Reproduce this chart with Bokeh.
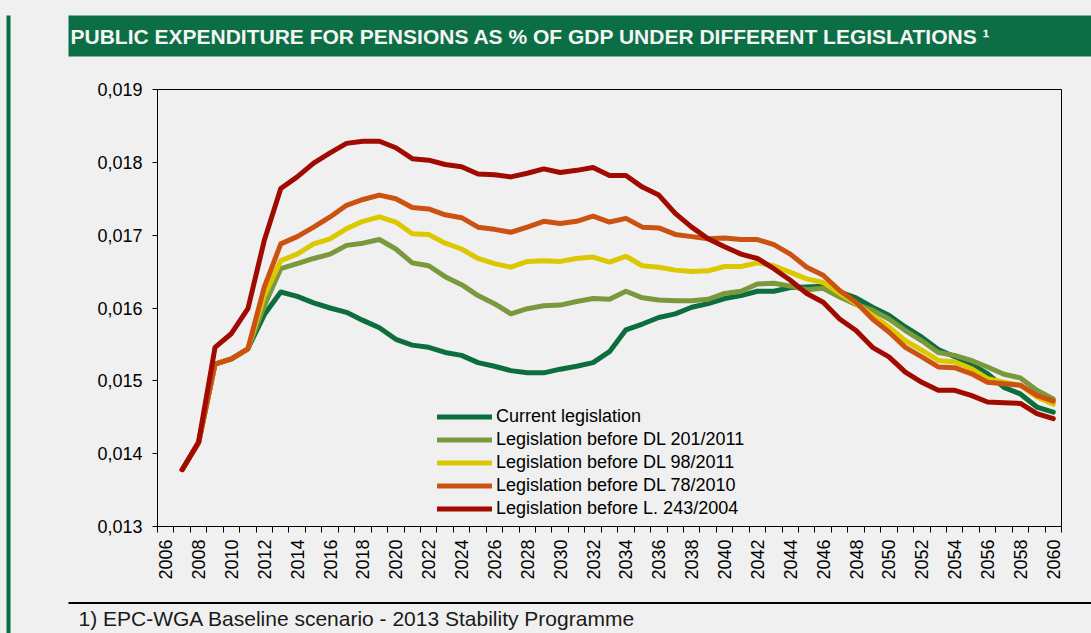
import math
from bokeh.plotting import figure
from bokeh.layouts import row, column
from bokeh.models import Range1d, FixedTicker, Legend, LegendItem
from bokeh.core.properties import value
from bokeh.embed import file_html
from bokeh.resources import INLINE

years = list(range(2007, 2061))

current = [0.01378, 0.01415, 0.01523, 0.01530, 0.01544, 0.01591,
           0.01622, 0.01616, 0.01607, 0.01600, 0.01594, 0.01583, 0.01573, 0.01557,
           0.01549, 0.01546, 0.01539, 0.01535, 0.01525, 0.01520, 0.01514, 0.01511,
           0.01511, 0.01516, 0.01520, 0.01525, 0.01540, 0.01570, 0.01578, 0.01587,
           0.01592, 0.01601, 0.01606, 0.01613, 0.01617, 0.01623, 0.01623, 0.01628,
           0.01629, 0.01630, 0.01622, 0.01614, 0.01601, 0.01590, 0.01574, 0.01560,
           0.01543, 0.01533, 0.01523, 0.01510, 0.01491, 0.01482, 0.01464, 0.01457]

before_dl201 = [0.01378, 0.01415, 0.01523, 0.01530, 0.01544, 0.01603,
                0.01654, 0.01661, 0.01668, 0.01674, 0.01686, 0.01689, 0.01694, 0.01681,
                0.01662, 0.01658, 0.01643, 0.01632, 0.01617, 0.01606, 0.01592, 0.01599,
                0.01603, 0.01604, 0.01609, 0.01613, 0.01612, 0.01623, 0.01614, 0.01611,
                0.01610, 0.01610, 0.01612, 0.01620, 0.01623, 0.01633, 0.01634, 0.01630,
                0.01625, 0.01627, 0.01615, 0.01605, 0.01597, 0.01585, 0.01569, 0.01555,
                0.01539, 0.01535, 0.01528, 0.01519, 0.01509, 0.01504, 0.01487, 0.01475]

before_dl98 = [0.01378, 0.01415, 0.01523, 0.01530, 0.01544, 0.01617,
               0.01665, 0.01674, 0.01688, 0.01695, 0.01709, 0.01719, 0.01725, 0.01718,
               0.01702, 0.01701, 0.01689, 0.01681, 0.01668, 0.01661, 0.01656, 0.01664,
               0.01665, 0.01664, 0.01668, 0.01670, 0.01663, 0.01671, 0.01658, 0.01656,
               0.01652, 0.01650, 0.01651, 0.01657, 0.01657, 0.01662, 0.01658, 0.01649,
               0.01640, 0.01635, 0.01620, 0.01606, 0.01590, 0.01574, 0.01555, 0.01542,
               0.01528, 0.01526, 0.01517, 0.01503, 0.01498, 0.01494, 0.01478, 0.01468]

before_dl78 = [0.01378, 0.01415, 0.01523, 0.01530, 0.01544, 0.01629,
               0.01688, 0.01698, 0.01711, 0.01725, 0.01741, 0.01749, 0.01755, 0.01750,
               0.01738, 0.01736, 0.01728, 0.01724, 0.01711, 0.01708, 0.01704, 0.01711,
               0.01719, 0.01716, 0.01719, 0.01726, 0.01718, 0.01723, 0.01711, 0.01710,
               0.01701, 0.01698, 0.01695, 0.01696, 0.01694, 0.01694, 0.01687, 0.01674,
               0.01656, 0.01645, 0.01624, 0.01608, 0.01585, 0.01567, 0.01546, 0.01533,
               0.01519, 0.01518, 0.01510, 0.01498, 0.01496, 0.01494, 0.01480, 0.01472]

before_l243 = [0.01378, 0.01416, 0.01546, 0.01565, 0.01599, 0.01693,
               0.01764, 0.01780, 0.01799, 0.01813, 0.01826, 0.01829, 0.01829, 0.01820,
               0.01805, 0.01803, 0.01797, 0.01794, 0.01784, 0.01783, 0.01780, 0.01785,
               0.01791, 0.01786, 0.01789, 0.01793, 0.01782, 0.01782, 0.01766, 0.01755,
               0.01730, 0.01711, 0.01695, 0.01684, 0.01674, 0.01668, 0.01654, 0.01638,
               0.01620, 0.01608, 0.01585, 0.01569, 0.01546, 0.01533, 0.01512, 0.01498,
               0.01487, 0.01487, 0.01480, 0.01471, 0.01470, 0.01469, 0.01455, 0.01448]

series_names = ["Current legislation", "Legislation before DL 201/2011",
                "Legislation before DL 98/2011", "Legislation before DL 78/2010",
                "Legislation before L. 243/2004"]
series_values = [current, before_dl201, before_dl98, before_dl78, before_l243]
series_colors = ["#0b6e3c", "#7a983c", "#dbc800", "#cc5212", "#a00a00"]

y_ticks = [0.013, 0.014, 0.015, 0.016, 0.017, 0.018, 0.019]
y_tick_labels = ["0,013", "0,014", "0,015", "0,016", "0,017", "0,018", "0,019"]
x_label_years = list(range(2006, 2061, 2))

title_text = "PUBLIC EXPENDITURE FOR PENSIONS AS % OF GDP UNDER DIFFERENT LEGISLATIONS \u00b9"
footnote_text = "1) EPC-WGA Baseline scenario - 2013 Stability Programme"

FONT = "Liberation Sans"
BG = "#f0f0f0"
GREEN = "#0b6e45"
W, H = 1091, 633
STRIP_W = 11
TOP_H = 81
FOOT_H = 39
MAIN_H = H - TOP_H - FOOT_H


def deco_fig(x0, x1, y0, y1):
    """A bare figure whose data units are page pixels (y grows downward)."""
    f = figure(width=x1 - x0, height=y1 - y0, output_backend="svg",
               toolbar_location=None, x_range=Range1d(x0, x1),
               y_range=Range1d(y1, y0), x_axis_type=None, y_axis_type=None,
               min_border=0, background_fill_color=BG, border_fill_color=BG)
    f.outline_line_color = None
    f.grid.visible = False
    return f


# left green rule
strip = deco_fig(0, STRIP_W, 0, H)
strip.quad(left=6, right=10, top=15, bottom=H, fill_color=GREEN, line_color=None)

# title bar
top = deco_fig(STRIP_W, W, 0, TOP_H)
top.quad(left=68, right=W, top=15, bottom=56, fill_color=GREEN, line_color=None)
top.text(x=[70], y=[35.5], text=[title_text], text_color="#f4f4f4",
         text_font=value(FONT), text_font_style="bold", text_font_size="21px",
         text_baseline="middle", text_align="left")

# footnote
foot = deco_fig(STRIP_W, W, H - FOOT_H, H)
foot.quad(left=68, right=W, top=601.5, bottom=603.5, fill_color="#000000",
          line_color=None)
foot.text(x=[78], y=[617.5], text=[footnote_text], text_color="#1a1a1a",
          text_font=value(FONT), text_font_size="21px", text_baseline="middle",
          text_align="left")

# main chart
p = figure(width=W - STRIP_W, height=MAIN_H, output_backend="svg",
           toolbar_location=None,
           x_range=Range1d(2005.5, 2060.5), y_range=Range1d(0.013, 0.019),
           min_border_left=146, min_border_right=30, min_border_top=8,
           min_border_bottom=MAIN_H - 8 - 437,
           background_fill_color=BG, border_fill_color=BG)
p.outline_line_color = "#000000"
p.outline_line_width = 1
p.grid.visible = False

p.xaxis.ticker = FixedTicker(ticks=x_label_years,
                             minor_ticks=[y - 0.5 for y in range(2006, 2062)])
p.xaxis.major_label_orientation = math.pi / 2
p.xaxis.major_tick_line_color = None
p.xaxis.major_tick_out = 6
p.xaxis.major_tick_in = 0
p.xaxis.minor_tick_out = 6
p.xaxis.minor_tick_in = 0
p.xaxis.minor_tick_line_color = "#000000"
p.xaxis.major_label_standoff = 7
p.yaxis.ticker = FixedTicker(ticks=y_ticks)
p.yaxis.major_label_overrides = {t: l for t, l in zip(y_ticks, y_tick_labels)}
p.yaxis.major_tick_out = 5
p.yaxis.major_tick_in = 0
p.yaxis.major_tick_line_color = "#000000"
p.yaxis.minor_tick_line_color = None
p.yaxis.major_label_standoff = 10
for ax in (p.xaxis, p.yaxis):
    ax.axis_line_color = "#000000"
    ax.major_label_text_font = FONT
    ax.major_label_text_font_size = "18px"
    ax.major_label_text_color = "#000000"

items = []
for name, vals, col in zip(series_names, series_values, series_colors):
    r = p.line(years, vals, line_color=col, line_width=5, line_join="round",
               line_cap="round")
    items.append(LegendItem(label=name, renderers=[r]))

legend = Legend(items=items, location=(280, 7), orientation="vertical",
                border_line_color=None, background_fill_alpha=0,
                padding=0, margin=0, spacing=2, glyph_width=55,
                glyph_height=21, label_height=21, label_standoff=4,
                label_text_font=FONT, label_text_font_size="18px",
                label_text_color="#000000")
p.add_layout(legend, "center")

# wrapping the chart in its own row keeps its frame from being aligned
# with the decoration figures above and below it
page = row(strip, column(top, row(p, spacing=0), foot, spacing=0), spacing=0,
           styles={"background-color": BG})

open("out.html", "w").write(file_html(page, INLINE))
